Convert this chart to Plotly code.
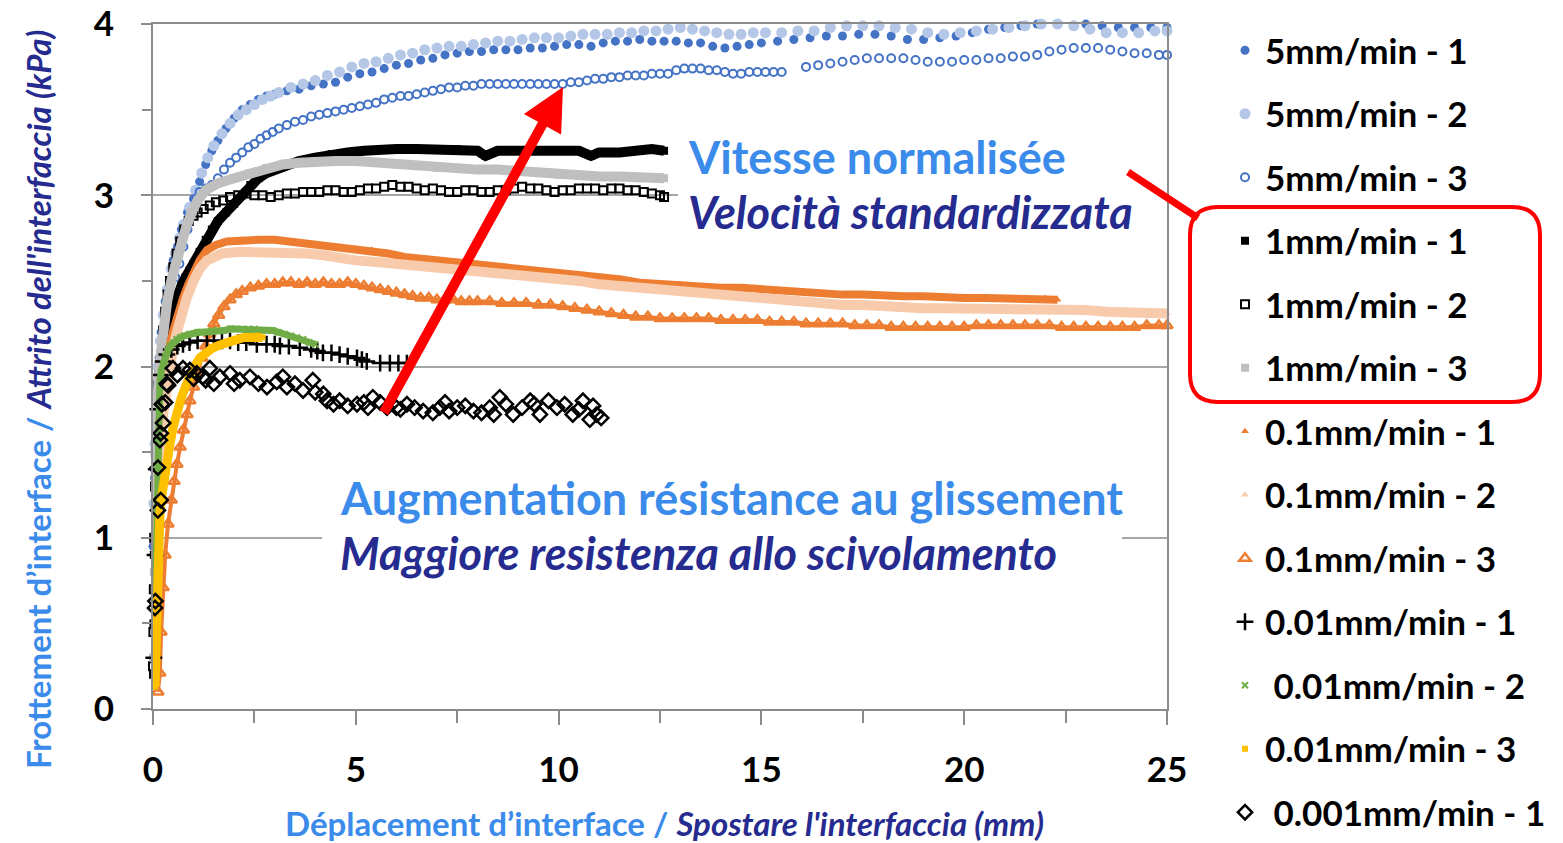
import plotly.graph_objects as go

# ---------------- data ----------------
S5_1 = [(0.0,0.95),(0.03,1.4),(0.06,1.65),(0.1,1.9),(0.15,2.05),(0.2,2.2),(0.3,2.38),(0.4,2.5),(0.5,2.62),(0.6,2.7),
        (0.7,2.8),(0.85,2.9),(1.0,2.98),(1.15,3.08),(1.3,3.18),(1.45,3.26),(1.6,3.32),(1.8,3.39),(2.0,3.45),(2.2,3.5),
        (2.4,3.53),(2.6,3.56),(2.8,3.58),(3.0,3.59),(3.3,3.61),(3.6,3.62),(3.9,3.64),(4.2,3.65),(4.5,3.66),(4.8,3.69),
        (5.1,3.71),(5.4,3.72),(5.7,3.74),(6.0,3.76),(6.3,3.77),(6.6,3.79),(6.9,3.8),(7.2,3.82),(7.5,3.83),(7.8,3.84),
        (8.1,3.84),(8.4,3.85),(8.7,3.85),(9.0,3.85),(9.3,3.86),(9.6,3.86),(9.9,3.87),(10.2,3.88),(10.5,3.88),(10.8,3.87),
        (11.1,3.89),(11.4,3.9),(11.7,3.9),(12.0,3.91),(12.3,3.9),(12.6,3.9),(12.9,3.9),(13.2,3.89),(13.5,3.89),(13.8,3.87),
        (14.1,3.86),(14.4,3.87),(14.7,3.88),(15.0,3.89),(15.4,3.9),(15.8,3.91),(16.2,3.92),(16.6,3.93),(17.0,3.93),(17.4,3.94),
        (17.8,3.94),(18.2,3.93),(18.6,3.91),(19.0,3.91),(19.4,3.92),(19.8,3.93),(20.2,3.95),(20.6,3.97),(21.0,3.98),(21.4,3.99),
        (21.8,4.0),(22.2,4.01),(22.6,4.02),(23.0,4.0),(23.4,3.99),(23.8,3.98),(24.2,3.98),(24.6,3.98),(25.0,3.98)]

S5_2 = [(0.02,1.2),(0.05,1.55),(0.08,1.8),(0.12,2.0),(0.18,2.15),(0.25,2.3),(0.35,2.45),(0.45,2.57),(0.55,2.66),(0.65,2.75),
        (0.75,2.83),(0.9,2.93),(1.05,3.03),(1.2,3.13),(1.35,3.22),(1.5,3.29),(1.7,3.36),(1.9,3.42),(2.1,3.47),(2.3,3.5),
        (2.5,3.53),(2.7,3.56),(2.9,3.58),(3.1,3.6),(3.4,3.63),(3.7,3.65),(4.0,3.67),(4.3,3.7),(4.6,3.72),(4.9,3.75),
        (5.2,3.77),(5.5,3.78),(5.8,3.8),(6.1,3.82),(6.4,3.83),(6.7,3.85),(7.0,3.86),(7.3,3.87),(7.6,3.87),(7.9,3.88),
        (8.2,3.89),(8.5,3.9),(8.8,3.9),(9.1,3.91),(9.4,3.92),(9.7,3.92),(10.0,3.92),(10.3,3.93),(10.6,3.94),(10.9,3.94),
        (11.2,3.94),(11.5,3.95),(11.8,3.95),(12.1,3.96),(12.4,3.96),(12.7,3.97),(13.0,3.98),(13.3,3.97),(13.6,3.96),(13.9,3.95),
        (14.2,3.94),(14.5,3.94),(14.8,3.95),(15.1,3.95),(15.5,3.95),(15.9,3.96),(16.3,3.96),(16.7,3.98),(17.1,3.99),(17.5,3.99),
        (17.9,3.99),(18.3,3.98),(18.7,3.97),(19.1,3.95),(19.5,3.94),(19.9,3.95),(20.3,3.96),(20.7,3.97),(21.1,3.98),(21.5,3.99),
        (21.9,4.0),(22.3,4.0),(22.7,3.99),(23.1,3.97),(23.5,3.95),(23.9,3.95),(24.3,3.95),(24.7,3.96),(25.0,3.96)]

S5_3 = [(0.02,1.0),(0.05,1.35),(0.08,1.6),(0.12,1.8),(0.18,2.0),(0.25,2.15),(0.35,2.3),(0.45,2.42),(0.55,2.52),(0.65,2.6),
        (0.75,2.7),(0.85,2.8),(0.95,2.9),(1.05,2.98),(1.15,3.02),(1.3,3.04),(1.45,3.06),(1.6,3.1),(1.75,3.15),(1.9,3.19),
        (2.05,3.22),(2.2,3.25),(2.35,3.28),(2.5,3.3),(2.65,3.33),(2.8,3.35),(2.95,3.37),(3.1,3.39),(3.3,3.41),(3.5,3.43),
        (3.7,3.44),(3.9,3.46),(4.1,3.47),(4.3,3.48),(4.5,3.49),(4.7,3.5),(4.9,3.51),(5.1,3.52),(5.3,3.53),(5.5,3.54),
        (5.7,3.56),(5.9,3.57),(6.1,3.58),(6.3,3.58),(6.5,3.59),(6.7,3.6),(6.9,3.61),(7.1,3.62),(7.3,3.63),(7.5,3.63),
        (7.7,3.64),(7.9,3.64),(8.1,3.65),(8.3,3.65),(8.5,3.65),(8.7,3.65),(8.9,3.65),(9.1,3.65),(9.3,3.65),(9.5,3.65),
        (9.7,3.65),(9.9,3.65),(10.1,3.65),(10.3,3.66),(10.5,3.66),(10.7,3.67),(10.9,3.68),(11.1,3.68),(11.3,3.69),(11.5,3.69),
        (11.7,3.7),(11.9,3.7),(12.1,3.7),(12.3,3.71),(12.5,3.71),(12.7,3.71),(12.9,3.73),(13.1,3.74),(13.3,3.74),(13.5,3.74),
        (13.7,3.73),(13.9,3.73),(14.1,3.72),(14.3,3.71),(14.5,3.71),(14.7,3.72),(14.9,3.72),(15.1,3.72),(15.3,3.72),(15.5,3.72),
        (16.1,3.75),(16.4,3.76),(16.7,3.77),(17.0,3.78),(17.3,3.79),(17.6,3.8),(17.9,3.8),(18.2,3.8),(18.5,3.8),(18.8,3.79),
        (19.1,3.78),(19.4,3.78),(19.7,3.78),(20.0,3.79),(20.3,3.79),(20.6,3.8),(20.9,3.8),(21.2,3.81),(21.5,3.81),(21.8,3.82),
        (22.1,3.84),(22.4,3.85),(22.7,3.86),(23.0,3.86),(23.3,3.86),(23.6,3.85),(23.9,3.84),(24.2,3.83),(24.5,3.83),(24.8,3.82),
        (25.0,3.82)]

S1_1 = [(0.0,0.2),(0.01,0.5),(0.02,0.9),(0.04,1.3),(0.07,1.6),(0.1,1.8),(0.15,1.95),(0.2,2.05),(0.3,2.18),(0.4,2.28),
        (0.5,2.36),(0.6,2.42),(0.7,2.47),(0.8,2.52),(0.9,2.56),(1.0,2.6),(1.15,2.67),(1.3,2.74),(1.45,2.8),(1.6,2.85),
        (1.8,2.9),(2.0,2.95),(2.2,3.0),(2.4,3.06),(2.6,3.1),(2.8,3.13),(3.0,3.15),(3.3,3.18),(3.6,3.2),(4.0,3.22),
        (4.4,3.24),(4.8,3.25),(5.2,3.26),(5.6,3.27),(6.0,3.27),(6.5,3.27),(7.0,3.27),(7.5,3.27),(8.0,3.26),(8.2,3.23),
        (8.5,3.26),(9.0,3.26),(9.5,3.26),(10.0,3.26),(10.5,3.26),(10.8,3.23),(11.0,3.25),(11.5,3.25),(12.0,3.26),(12.3,3.27),
        (12.6,3.26)]

S1_2 = [(0.0,0.25),(0.01,0.45),(0.02,0.7),(0.03,1.0),(0.05,1.3),(0.07,1.5),(0.1,1.73),(0.13,1.83),(0.17,1.92),(0.21,2.07),
        (0.25,2.21),(0.3,2.32),(0.36,2.42),(0.42,2.5),(0.5,2.58),(0.58,2.66),(0.67,2.73),(0.77,2.8),(0.88,2.85),(1.0,2.88),
        (1.1,2.9),(1.25,2.92),(1.4,2.94),(1.55,2.96),(1.73,2.97),(1.9,2.99),(2.1,3.0),(2.3,3.01),(2.5,3.0),(2.7,3.0),
        (2.9,2.99),(3.1,3.0),(3.3,3.01),(3.5,3.01),(3.7,3.02),(3.9,3.02),(4.1,3.02),(4.3,3.03),(4.5,3.03),(4.7,3.02),
        (4.9,3.02),(5.1,3.03),(5.3,3.04),(5.5,3.04),(5.7,3.05),(5.9,3.06),(6.1,3.05),(6.3,3.05),(6.5,3.04),(6.7,3.03),
        (6.9,3.04),(7.1,3.03),(7.3,3.02),(7.5,3.02),(7.7,3.03),(7.9,3.03),(8.1,3.02),(8.3,3.02),(8.5,3.03),(8.7,3.03),
        (8.9,3.04),(9.1,3.05),(9.3,3.04),(9.5,3.04),(9.7,3.03),(9.9,3.02),(10.1,3.03),(10.3,3.03),(10.5,3.04),(10.7,3.04),
        (10.9,3.04),(11.1,3.03),(11.3,3.04),(11.5,3.04),(11.7,3.03),(11.9,3.03),(12.1,3.02),(12.3,3.01),(12.5,3.0),(12.6,2.99)]

S1_3 = [(0.0,0.3),(0.02,0.8),(0.05,1.3),(0.08,1.6),(0.12,1.85),(0.18,2.05),(0.25,2.22),(0.35,2.38),(0.45,2.5),(0.55,2.6),
        (0.67,2.69),(0.8,2.8),(0.95,2.9),(1.1,2.97),(1.3,3.03),(1.6,3.07),(2.0,3.1),(2.4,3.13),(2.8,3.16),(3.2,3.18),
        (3.6,3.19),(4.0,3.2),(4.5,3.2),(5.0,3.2),(5.5,3.19),(6.0,3.18),(6.5,3.17),(7.0,3.16),(7.5,3.16),(8.0,3.15),
        (8.5,3.15),(9.0,3.14),(9.5,3.13),(10.0,3.12),(10.5,3.12),(11.0,3.11),(11.5,3.11),(12.0,3.1),(12.6,3.1)]

S01_1 = [(0.05,0.5),(0.08,0.9),(0.12,1.3),(0.17,1.6),(0.22,1.8),(0.3,1.95),(0.34,2.02),(0.42,2.13),(0.5,2.21),(0.6,2.3),
         (0.74,2.4),(0.87,2.48),(1.0,2.55),(1.15,2.62),(1.33,2.68),(1.55,2.71),(1.82,2.73),(2.2,2.74),(2.6,2.74),(3.0,2.74),
         (3.4,2.73),(3.8,2.72),(4.2,2.71),(4.6,2.7),(5.0,2.69),(5.4,2.68),(5.8,2.66),(6.2,2.64),(6.6,2.63),(7.0,2.62),
         (7.5,2.61),(8.0,2.6),(8.5,2.58),(9.0,2.57),(9.5,2.56),(10.0,2.55),(10.5,2.54),(11.0,2.52),(11.5,2.51),(12.0,2.49),
         (12.5,2.48),(13.0,2.48),(13.5,2.47),(14.0,2.46),(14.5,2.46),(15.0,2.45),(15.5,2.44),(16.0,2.44),(16.5,2.43),(17.0,2.42),
         (17.5,2.42),(18.0,2.41),(18.5,2.41),(19.0,2.41),(19.5,2.4),(20.0,2.4),(20.5,2.4),(21.0,2.4),(21.5,2.4),(22.0,2.4),
         (22.3,2.39)]

S01_2 = [(0.05,0.4),(0.08,0.8),(0.12,1.2),(0.18,1.5),(0.25,1.72),(0.33,1.88),(0.42,2.02),(0.5,2.12),(0.6,2.21),(0.72,2.32),
         (0.83,2.4),(1.0,2.5),(1.15,2.57),(1.33,2.62),(1.7,2.66),(2.14,2.67),(2.6,2.67),(3.0,2.67),(3.4,2.67),(3.8,2.66),
         (4.2,2.65),(4.6,2.63),(5.0,2.62),(5.5,2.61),(6.0,2.6),(6.5,2.59),(7.0,2.58),(7.5,2.57),(8.0,2.56),(8.5,2.54),
         (9.0,2.53),(9.5,2.52),(10.0,2.51),(10.5,2.5),(11.0,2.48),(11.5,2.47),(12.0,2.45),(12.5,2.44),(13.0,2.43),(13.5,2.42),
         (14.0,2.41),(14.5,2.4),(15.0,2.39),(15.5,2.38),(16.0,2.37),(16.5,2.37),(17.0,2.36),(17.5,2.36),(18.0,2.35),(18.5,2.35),
         (19.0,2.34),(19.5,2.34),(20.0,2.34),(20.5,2.34),(21.0,2.34),(21.5,2.34),(22.0,2.34),(22.5,2.33),(23.0,2.33),(23.5,2.32),
         (24.0,2.32),(24.5,2.31),(25.0,2.31)]

S01_3 = [(0.12,0.1),(0.17,0.21),(0.2,0.45),(0.25,0.71),(0.3,0.9),(0.37,1.08),(0.45,1.22),(0.52,1.33),(0.59,1.43),(0.67,1.53),
         (0.75,1.63),(0.84,1.72),(0.91,1.8),(1.0,1.88),(1.1,1.97),(1.2,2.05),(1.3,2.12),(1.4,2.19),(1.5,2.25),(1.62,2.3),
         (1.75,2.35),(1.9,2.39),(2.05,2.42),(2.2,2.44),(2.4,2.46),(2.6,2.47),(2.8,2.48),(3.0,2.48),(3.2,2.49),(3.4,2.49),
         (3.6,2.48),(3.8,2.49),(4.0,2.48),(4.2,2.49),(4.4,2.48),(4.6,2.48),(4.8,2.49),(5.0,2.48),(5.2,2.47),(5.4,2.46),
         (5.6,2.45),(5.8,2.44),(6.0,2.43),(6.2,2.42),(6.4,2.41),(6.6,2.4),(6.8,2.4),(7.0,2.39),(7.2,2.39),(7.4,2.39),
         (7.6,2.38),(7.8,2.38),(8.0,2.38),(8.3,2.38),(8.6,2.37),(8.9,2.37),(9.2,2.37),(9.5,2.36),(9.8,2.36),(10.1,2.35),
         (10.4,2.34),(10.7,2.33),(11.0,2.32),(11.3,2.31),(11.6,2.3),(11.9,2.29),(12.2,2.29),(12.5,2.28),(12.8,2.28),(13.1,2.28),
         (13.4,2.28),(13.7,2.28),(14.0,2.27),(14.3,2.27),(14.6,2.27),(14.9,2.27),(15.2,2.26),(15.5,2.26),(15.8,2.26),(16.1,2.25),
         (16.4,2.25),(16.7,2.25),(17.0,2.25),(17.3,2.24),(17.6,2.24),(17.9,2.24),(18.2,2.23),(18.5,2.23),(18.8,2.23),(19.1,2.23),
         (19.4,2.23),(19.7,2.23),(20.0,2.23),(20.3,2.24),(20.6,2.24),(20.9,2.24),(21.2,2.24),(21.5,2.24),(21.8,2.24),(22.1,2.24),
         (22.4,2.23),(22.7,2.23),(23.0,2.23),(23.3,2.23),(23.6,2.23),(23.9,2.23),(24.2,2.23),(24.5,2.24),(24.8,2.24),(25.0,2.24)]

S001_1 = [(0.02,0.3),(0.05,0.9),(0.08,1.4),(0.12,1.75),(0.18,1.95),(0.25,2.03),(0.34,2.07),(0.45,2.1),(0.6,2.12),(0.74,2.13),
          (0.9,2.14),(1.1,2.15),(1.33,2.15),(1.5,2.15),(1.7,2.15),(1.9,2.15),(2.1,2.14),(2.3,2.14),(2.56,2.13),(2.8,2.13),
          (3.0,2.13),(3.13,2.12),(3.35,2.12),(3.62,2.11),(3.9,2.1),(4.05,2.09),(4.19,2.08),(4.4,2.08),(4.6,2.07),(4.8,2.06),
          (5.03,2.05),(5.15,2.04),(5.27,2.03),(5.6,2.02),(5.84,2.02),(6.05,2.02),(6.26,2.02)]

S001_2 = [(0.03,0.3),(0.05,0.6),(0.07,0.9),(0.09,1.15),(0.11,1.4),(0.13,1.6),(0.15,1.78),(0.17,1.9),(0.2,1.97),(0.25,2.02),
          (0.3,2.06),(0.36,2.09),(0.42,2.12),(0.5,2.14),(0.58,2.16),(0.67,2.17),(0.77,2.18),(0.9,2.19),(1.0,2.19),(1.1,2.2),
          (1.2,2.2),(1.33,2.2),(1.45,2.21),(1.6,2.21),(1.75,2.21),(1.9,2.22),(2.05,2.22),(2.2,2.22),(2.35,2.22),(2.5,2.22),
          (2.65,2.21),(2.8,2.21),(2.96,2.21),(3.1,2.2),(3.25,2.19),(3.4,2.18),(3.55,2.17),(3.7,2.16),(3.85,2.14),(4.0,2.13)]

S001_3 = [(0.05,0.13),(0.07,0.4),(0.1,0.75),(0.13,0.95),(0.17,1.14),(0.22,1.25),(0.28,1.36),(0.34,1.43),(0.42,1.55),(0.5,1.65),
          (0.59,1.74),(0.7,1.82),(0.83,1.9),(0.95,1.97),(1.05,2.01),(1.15,2.05),(1.3,2.08),(1.48,2.11),(1.7,2.13),(1.9,2.15),
          (2.1,2.16),(2.25,2.17),(2.39,2.17),(2.55,2.18),(2.7,2.17)]

S0001_1 = [(0.05,0.59),(0.06,0.63),(0.12,1.16),(0.19,1.22),(0.12,1.41),(0.19,1.61),(0.25,1.67),(0.3,1.79),(0.37,1.89),(0.17,1.57),
           (0.22,1.78),(0.34,1.9),(0.49,1.99),(0.6,1.95),(0.74,1.99),(0.91,1.98),(1.0,1.93),(1.08,1.96),(1.23,1.94),(1.3,1.92),
           (1.4,1.99),(1.5,1.9),(1.65,1.94),(1.9,1.96),(2.0,1.9),(2.14,1.92),(2.39,1.94),(2.6,1.9),(2.81,1.88),(3.05,1.91),
           (3.2,1.94),(3.3,1.88),(3.5,1.9),(3.7,1.86),(3.94,1.92),(4.0,1.85),(4.2,1.84),(4.29,1.8),(4.45,1.78),(4.6,1.8),
           (4.8,1.77),(5.03,1.78),(5.2,1.79),(5.3,1.76),(5.42,1.82),(5.6,1.79),(5.77,1.76),(6.0,1.76),(6.1,1.75),(6.26,1.78),
           (6.45,1.76),(6.66,1.74),(6.9,1.73),(7.07,1.76),(7.2,1.79),(7.3,1.74),(7.5,1.76),(7.7,1.77),(7.9,1.74),(8.1,1.73),
           (8.3,1.76),(8.4,1.72),(8.55,1.82),(8.7,1.78),(8.88,1.72),(9.1,1.76),(9.3,1.8),(9.4,1.78),(9.54,1.72),(9.75,1.8),
           (9.96,1.76),(10.15,1.78),(10.35,1.72),(10.5,1.75),(10.6,1.8),(10.77,1.69),(10.85,1.77),(10.94,1.72),(11.05,1.7)]

X_TICKS = [0, 5, 10, 15, 20, 25]
Y_TICKS = [0, 1, 2, 3, 4]

# ---------------- helpers (pixel -> paper fractions for decorations) ----------------
L, R, T, B = 153, 1167, 24, 709
def fx(p):
    return (p - L) / (R - L)
def fy(p):
    return (B - p) / (B - T)

LIGHT = "#3B8BEB"
NAVY = "#262B8F"
FONT = "Lato"

fig = go.Figure()

def xs(s):
    return [p[0] for p in s]
def ys(s):
    return [p[1] for p in s]

def band(s, color, width):
    fig.add_trace(go.Scatter(x=xs(s), y=ys(s), mode="lines", line=dict(color=color, width=width),
                             showlegend=False, hoverinfo="skip", cliponaxis=False))

def pts(s, name, symbol, color, size, lw=0, lcolor=None):
    fig.add_trace(go.Scatter(x=xs(s), y=ys(s), mode="markers", name=name, legendgroup=name,
                             cliponaxis=False,
                             marker=dict(symbol=symbol, color=color, size=size,
                                         line=dict(width=lw, color=lcolor if lcolor else color))))

pts(S5_1, "5mm/min - 1", "circle", "#4472C4", 9)
pts(S5_2, "5mm/min - 2", "circle", "#B4C7E7", 11)
pts(S5_3, "5mm/min - 3", "circle-open", "#4472C4", 8, 2)
band(S1_1, "black", 10)
pts(S1_1, "1mm/min - 1", "square", "black", 8)
pts(S1_2, "1mm/min - 2", "square-open", "black", 8, 2)
band(S1_3, "#BFBFBF", 10)
pts(S1_3, "1mm/min - 3", "square", "#BFBFBF", 8)
band(S01_1, "#ED7D31", 8)
pts(S01_1, "0.1mm/min - 1", "triangle-up", "#ED7D31", 7)
band(S01_2, "#F8CBAD", 10)
pts(S01_2, "0.1mm/min - 2", "triangle-up", "#F8CBAD", 7)
band(S01_3, "#ED7D31", 4)
pts(S01_3, "0.1mm/min - 3", "triangle-up-open", "#ED7D31", 10, 2.5)
pts(S001_1, "0.01mm/min - 1", "cross-thin-open", "black", 12, 2.5)
band(S001_2, "#70AD47", 7)
pts(S001_2, "\u00a00.01mm/min - 2", "x-thin-open", "#70AD47", 6, 2)
band(S001_3, "#FFC000", 9)
pts(S001_3, "0.01mm/min - 3", "square", "#FFC000", 6)
pts(S0001_1, "\u00a00.001mm/min - 1", "diamond-open", "black", 11, 2.5)

axis_col = "#8C8C8C"
tickfont = dict(family=FONT, size=35, color="black", weight="bold")

fig.update_xaxes(range=[0, 25], tickmode="array", tickvals=X_TICKS, showgrid=False, zeroline=False,
                 showline=True, linecolor=axis_col, linewidth=2, mirror=True, automargin=False,
                 ticks="outside", ticklen=14, tickwidth=2, tickcolor=axis_col,
                 minor=dict(dtick=2.5, ticks="outside", ticklen=12, tickwidth=2, tickcolor=axis_col, showgrid=False),
                 tickfont=tickfont, ticklabelstandoff=15, ticklabeloverflow="allow")
fig.update_yaxes(range=[0, 4.0004], tickmode="array", tickvals=Y_TICKS, showgrid=True, gridcolor="#A6A6A6",
                 gridwidth=2, zeroline=False, automargin=False,
                 showline=True, linecolor=axis_col, linewidth=2, mirror=True,
                 ticks="outside", ticklen=10, tickwidth=2, tickcolor=axis_col,
                 minor=dict(dtick=0.5, ticks="outside", ticklen=9, tickwidth=2, tickcolor=axis_col, showgrid=False),
                 tickfont=tickfont, ticklabelstandoff=20, ticklabeloverflow="allow")

shapes = []
# white boxes behind the two captions
shapes.append(dict(type="rect", xref="paper", yref="paper", x0=fx(678), x1=fx(1165), y0=fy(250), y1=fy(118),
                   fillcolor="white", line=dict(width=0), layer="above"))
shapes.append(dict(type="rect", xref="paper", yref="paper", x0=fx(322), x1=fx(1122), y0=fy(582), y1=fy(470),
                   fillcolor="white", line=dict(width=0), layer="above"))
# red connector and rounded frame around the 1mm/min legend entries
shapes.append(dict(type="line", xref="paper", yref="paper", x0=fx(1128), y0=fy(172), x1=fx(1198), y1=fy(218),
                   line=dict(color="#FF0000", width=7), layer="above"))
x0, y0, x1, y1, r = 1190, 207, 1540, 402, 28
pth = (f"M {fx(x0+r)},{fy(y0)} L {fx(x1-r)},{fy(y0)} Q {fx(x1)},{fy(y0)} {fx(x1)},{fy(y0+r)} "
       f"L {fx(x1)},{fy(y1-r)} Q {fx(x1)},{fy(y1)} {fx(x1-r)},{fy(y1)} "
       f"L {fx(x0+r)},{fy(y1)} Q {fx(x0)},{fy(y1)} {fx(x0)},{fy(y1-r)} "
       f"L {fx(x0)},{fy(y0+r)} Q {fx(x0)},{fy(y0)} {fx(x0+r)},{fy(y0)} Z")
shapes.append(dict(type="path", xref="paper", yref="paper", path=pth,
                   line=dict(color="#FF0000", width=4), fillcolor="rgba(0,0,0,0)", layer="above"))

annotations = []
def caption(xp, yp, txt, color, italic=False, size=45):
    t = f"<i>{txt}</i>" if italic else txt
    annotations.append(dict(xref="paper", yref="paper", x=fx(xp), y=fy(yp), xanchor="left", yanchor="middle",
                            align="left", showarrow=False,
                            font=dict(family=FONT, size=size, weight="bold", color=color), text=t))

caption(686, 157, "Vitesse normalisée", LIGHT)
caption(686, 212, "Velocità standardizzata", NAVY, italic=True)
caption(338, 498, "Augmentation résistance au glissement", LIGHT)
caption(338, 553, "Maggiore resistenza allo scivolamento", NAVY, italic=True)

# red arrow
annotations.append(dict(xref="paper", yref="paper", x=fx(563), y=fy(87), text="", showarrow=True,
                        arrowhead=2, arrowsize=0.85, arrowwidth=10, arrowcolor="#FF0000",
                        ax=383 - 563, ay=414 - 87, standoff=0))
# axis titles
annotations.append(dict(xref="paper", yref="paper", x=fx(38), y=fy(400), textangle=-90, showarrow=False,
                        xanchor="center", yanchor="middle",
                        font=dict(family=FONT, size=33, weight="bold"),
                        text=f'<span style="color:{LIGHT}">Frottement d’interface / </span>'
                             f'<span style="color:{NAVY}"><i>Attrito dell\'interfaccia (kPa)</i></span>'))
annotations.append(dict(xref="paper", yref="paper", x=fx(664), y=fy(823), showarrow=False,
                        xanchor="center", yanchor="middle",
                        font=dict(family=FONT, size=33, weight="bold"),
                        text=f'<span style="color:{LIGHT}">Déplacement d’interface / </span>'
                             f'<span style="color:{NAVY}"><i>Spostare l\'interfaccia (mm)</i></span>'))

fig.update_layout(
    width=1563, height=843,
    margin=dict(l=L, r=1563 - R, t=T, b=843 - B, autoexpand=False),
    paper_bgcolor="white", plot_bgcolor="white",
    font=dict(family=FONT, color="black"),
    shapes=shapes, annotations=annotations,
    legend=dict(x=fx(1225), y=fy(21), xanchor="left", yanchor="top",
                font=dict(family=FONT, size=35, color="black", weight="bold"),
                tracegroupgap=15, bgcolor="rgba(0,0,0,0)", itemsizing="trace", maxheight=1000),
    showlegend=True,
)

fig.write_html("out.html")
